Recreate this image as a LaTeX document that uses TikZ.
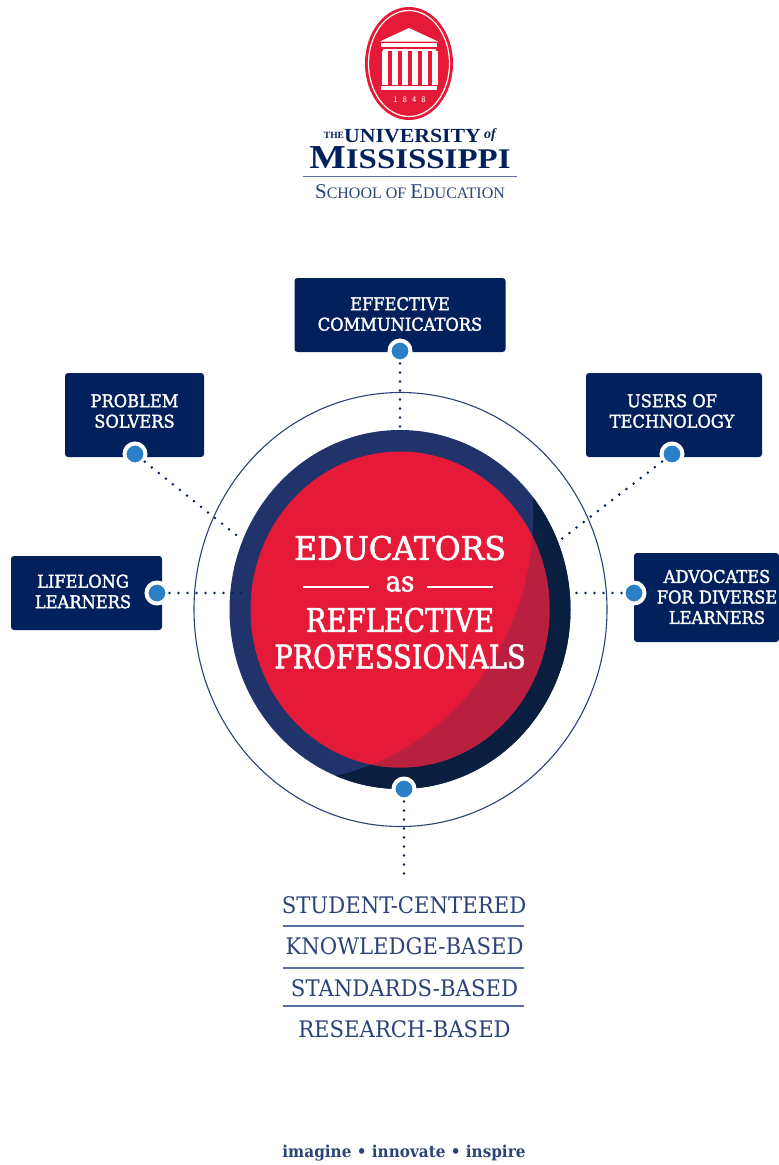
\documentclass[tikz,border=0pt]{standalone}
\usepackage{fontspec}
\usepackage{graphicx}
\usetikzlibrary{shapes.geometric,positioning}
\newfontfamily\slabfont[FakeStretch=0.93]{DejaVu Serif}
\newfontfamily\slabheavy[FakeStretch=0.93,FakeBold=1.8]{DejaVu Serif}
\newfontfamily\logofont{Liberation Serif}
\definecolor{navy}{HTML}{02205C}
\definecolor{ringblue}{HTML}{21336B}
\definecolor{deepblue}{HTML}{0A1E3F}
\definecolor{oxred}{HTML}{E41A38}
\definecolor{deepred}{HTML}{B9203F}
\definecolor{dotblue}{HTML}{2A7FC6}
\definecolor{listblue}{HTML}{2B4378}
\definecolor{rulegray}{HTML}{5A70A0}

\begin{document}
\begin{tikzpicture}[x=1pt,y=-1pt,on grid,
	boxnode/.style={rectangle,fill=navy,rounded corners=3pt,inner sep=0pt},
	boxtext/.style={text=white,align=center,font=\slabheavy\fontsize{17.5}{20.5}\selectfont},
	dotnode/.style={circle,fill=dotblue,draw=white,line width=4pt,minimum size=21pt,inner sep=0pt},
	dotline/.style={draw=navy,line width=2.8pt,line cap=round,dash pattern=on 0pt off 9pt},
	maintext/.style={text=white,font=\slabheavy\fontsize{32.5}{36}\selectfont,inner sep=0pt},
	listtext/.style={text=listblue,font=\slabfont\fontsize{22.8}{26}\selectfont,inner sep=0pt},
	listrule/.style={draw=rulegray,line width=1.6pt},
	logotext/.style={text=navy,inner sep=0pt}]
	\useasboundingbox (0,0) rectangle (779,1165);

	% logo
	\node[ellipse,fill=oxred,minimum width=88pt,minimum height=113pt,inner sep=0pt] (seal) at (409,63.5) {};
	\node[ellipse,draw=white,line width=1.2pt,minimum width=81pt,minimum height=106pt,inner sep=0pt] (seal_ring) at (seal) {};
	\fill[white] (380,41.5) -- (409,28) -- (438,41.5) -- cycle;
	\fill[white] (381,43) rectangle (437,46.5);
	\fill[white] (383,48.5) rectangle (436,51);
	\foreach \i in {0,...,5}
		\fill[white] (382+10*\i,51) rectangle (388+10*\i,85);
	\fill[white] (381,86) rectangle (437,89.5);
	\node[text=white,inner sep=0pt,font=\sffamily\fontsize{8.5}{10}\selectfont] (seal_year) at (409.5,99.5) {1\hspace{5pt}8\hspace{5pt}4\hspace{5pt}8};
	\node[logotext,font=\logofont\bfseries\fontsize{9.5}{10}\selectfont] (logo_the) at (334,135.5) {THE};
	\node[logotext,font=\logofont\bfseries\fontsize{20}{22}\selectfont] (logo_uni) at (412.5,136) {\scalebox{1.09}[1]{UNIVERSITY}};
	\node[logotext,font=\logofont\bfseries\itshape\fontsize{14}{16}\selectfont] (logo_of) at (490,135) {of};
	\node[logotext,font=\logofont\bfseries\fontsize{33.5}{36}\selectfont] (logo_miss) at (410,157.5) {\scalebox{1.155}[1]{M{\fontsize{28.5}{30}\selectfont ISSISSIPPI}}};
	\draw[draw=rulegray,line width=1.8pt] (303,176.5) -- (517,176.5);
	\node[text=listblue,inner sep=0pt,font=\logofont\fontsize{21}{22}\selectfont] (logo_school) at (410,192) {S{\fontsize{16}{17}\selectfont CHOOL OF }E{\fontsize{16}{17}\selectfont DUCATION}};

	% core
	\node[ellipse,draw=listblue,line width=1.1pt,minimum width=413pt,minimum height=434pt,inner sep=0pt] (outer) at (400.5,609.5) {};
	\node[ellipse,fill=ringblue,minimum width=341pt,minimum height=359pt,inner sep=0pt] (core) at (400,609.5) {};
	\begin{scope}
		\clip (400,609.5) ellipse [x radius=170.5,y radius=179.5];
		\fill[deepblue] (531,480) .. controls (548,610) and (470,745) .. (335,776) -- (400,800) -- (600,800) -- (600,480) -- cycle;
	\end{scope}
	\node[ellipse,fill=oxred,minimum width=299pt,minimum height=316pt,inner sep=0pt] (disc) at (400,609.5) {};
	\begin{scope}
		\clip (400,609.5) ellipse [x radius=149.5,y radius=158];
		\fill[deepred] (531,480) .. controls (548,610) and (470,745) .. (335,776) -- (400,800) -- (600,800) -- (600,480) -- cycle;
	\end{scope}

	% boxes
	\node[boxnode,minimum width=211pt,minimum height=74pt] (b_1) at (400,315) {};
	\node[boxnode,minimum width=139pt,minimum height=84pt] (b_2) at (134.5,415) {};
	\node[boxnode,minimum width=176pt,minimum height=84pt] (b_3) at (674,415) {};
	\node[boxnode,minimum width=151pt,minimum height=74pt] (b_4) at (86.5,593) {};
	\node[boxnode,minimum width=145pt,minimum height=89pt] (b_5) at (706.5,597.5) {};
	\node[boxtext] (t_1) at (400,314) {EFFECTIVE\\COMMUNICATORS};
	\node[boxtext] (t_2) at (134.5,411) {PROBLEM\\SOLVERS};
	\node[boxtext] (t_3) at (672,411) {USERS OF\\TECHNOLOGY};
	\node[boxtext] (t_4) at (83,591.5) {LIFELONG\\LEARNERS};
	\node[boxtext] (t_5) at (717,597) {ADVOCATES\\FOR DIVERSE\\LEARNERS};

	% dots
	\node[dotnode] (d_1) at (400,351) {};
	\node[dotnode] (d_2) at (135,454) {};
	\node[dotnode] (d_3) at (672,454) {};
	\node[dotnode] (d_4) at (157,593) {};
	\node[dotnode] (d_5) at (634,593) {};
	\node[dotnode] (d_6) at (404,789) {};
	\coordinate (c_1) at (400,430);
	\coordinate (c_2) at (240,538);
	\coordinate (c_3) at (559,541);
	\coordinate (c_4) at (247,593);
	\coordinate (c_5) at (555,593);
	\coordinate (c_6) at (404,875);
	\path[dotline]
	(d_1) edge (c_1)
	(d_2) edge (c_2)
	(d_3) edge (c_3)
	(d_4) edge (c_4)
	(d_5) edge (c_5)
	(d_6) edge (c_6);

	% centre text
	\node[maintext] (l_1) at (400,548) {\scalebox{1.04}[1]{EDUCATORS}};
	\node[maintext,font=\slabheavy\fontsize{28}{30}\selectfont] (l_2) at (400,584) {as};
	\node[maintext] (l_3) at (400,620) {\scalebox{.91}[1]{REFLECTIVE}};
	\node[maintext] (l_4) at (400,656.5) {\scalebox{.906}[1]{PROFESSIONALS}};
	\draw[white,line width=1.8pt] (303,587) -- (369,587) (427,587) -- (493,587);

	% list
	\node[listtext] (s_1) at (404,905) {STUDENT-CENTERED};
	\node[listtext] (s_2) at (404.5,946.5) {KNOWLEDGE-BASED};
	\node[listtext] (s_3) at (404.5,988) {STANDARDS-BASED};
	\node[listtext] (s_4) at (404.5,1029) {RESEARCH-BASED};
	\draw[listrule] (282.5,926) -- (524,926) (282.5,968) -- (524,968) (282.5,1006) -- (524,1006);

	\node[text=listblue,inner sep=0pt,font=\slabfont\bfseries\fontsize{16.4}{20}\selectfont] (motto) at (404,1153) {imagine • innovate • inspire};
\end{tikzpicture}
\end{document}
